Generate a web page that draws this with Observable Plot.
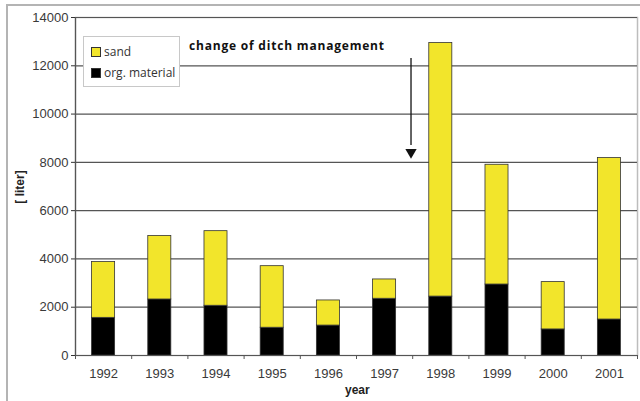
<!DOCTYPE html>
<html>
<head>
<meta charset="utf-8">
<script src="https://cdn.jsdelivr.net/npm/d3@7"></script>
<script src="https://cdn.jsdelivr.net/npm/@observablehq/plot@0.6"></script>
<style>
  html, body { margin: 0; padding: 0; width: 640px; height: 401px; overflow: hidden; background: #fff; }
  #wrap { position: relative; width: 640px; height: 401px; }
  #outer { position: absolute; left: 6px; top: 4px; width: 700px; height: 500px; border: 2px solid #b4b4b4; box-sizing: border-box; }
  #chart { position: absolute; left: 0; top: 0; }
  .lbl { position: absolute; font-family: "Liberation Sans", Arial, sans-serif; font-weight: bold; font-size: 12px; color: #222; }
  #legend { position: absolute; left: 83px; top: 36px; width: 97px; height: 51px; border: 1px solid #c8c8c8; background: #fff; box-sizing: border-box;
    font-family: "Open Sans", sans-serif; font-size: 12px; color: #333; }
  .li { position: absolute; left: 7px; display: flex; align-items: center; }
  .sw { width: 8px; height: 8px; border: 1px solid #333; margin-right: 3px; }
  #note { position: absolute; left: 189px; top: 37px; font-family: "Open Sans", sans-serif; font-weight: bold; font-size: 12px; letter-spacing: 0.8px; color: #111; white-space: nowrap; }
</style>
</head>
<body>
<div id="wrap">
  <div id="outer"></div>
  <div id="chart"></div>
  <div id="legend">
    <div class="li" style="top:6px"><span class="sw" style="background:#f2e52b"></span>sand</div>
    <div class="li" style="top:27px"><span class="sw" style="background:#000"></span>org. material</div>
  </div>
  <div id="note">change of ditch management</div>
  <div class="lbl" style="left:345px; top:383px;">year</div>
  <div class="lbl" style="left:20px; top:187px; transform: translate(-50%,-50%) rotate(-90deg);">[ liter]</div>
</div>
<script>
const years = [1992, 1993, 1994, 1995, 1996, 1997, 1998, 1999, 2000, 2001];
const orgMaterial = [1560, 2320, 2060, 1150, 1240, 2350, 2440, 2940, 1080, 1490];
const totals = [3870, 4950, 5150, 3700, 2280, 3150, 12940, 7900, 3040, 8180];
const sand = totals.map((t, i) => t - orgMaterial[i]);
const yTicks = [0, 2000, 4000, 6000, 8000, 10000, 12000, 14000];
const arrowX = [1997.47];
const arrowY = [12300, 8700];
const arrowHeadY = [8420];

const xDomain = [years[0] - 0.5, years[years.length - 1] + 0.5];
const boundaries = d3.range(xDomain[0], xDomain[1] + 0.01, 1);
const half = 0.205;

const rows = [];
years.forEach((y, i) => {
  rows.push({year: y, y1: 0, y2: orgMaterial[i], type: "org. material"});
  rows.push({year: y, y1: orgMaterial[i], y2: orgMaterial[i] + sand[i], type: "sand"});
});

const chart = Plot.plot({
  width: 640,
  height: 401,
  marginLeft: 75,
  marginRight: 3,
  marginTop: 17,
  marginBottom: 46,
  style: {fontFamily: "Liberation Sans, Arial, sans-serif", fontSize: "13px", color: "#333", background: "transparent"},
  x: {domain: xDomain, type: "linear"},
  y: {domain: [0, 14000]},
  color: {domain: ["sand", "org. material"], range: ["#f2e52b", "#000000"]},
  marks: [
    Plot.frame({stroke: "#bdbdbd", strokeWidth: 1.5}),
    Plot.gridY(yTicks.slice(1), {stroke: "#555", strokeOpacity: 1, strokeWidth: 1.2}),
    Plot.rectY(rows, {x1: d => d.year - half, x2: d => d.year + half, y1: "y1", y2: "y2", fill: "type", stroke: "#333", strokeWidth: 0.8}),
    Plot.ruleY([0], {stroke: "#555", strokeWidth: 1.2}),
    Plot.ruleX([xDomain[0]], {stroke: "#555", strokeWidth: 1.2}),
    Plot.axisY({ticks: yTicks, tickSize: 4, tickPadding: 3, label: null, tickFormat: d => String(d), fill: "#3a3a3a"}),
    Plot.axisX({ticks: boundaries, tickSize: 4, tickFormat: () => "", label: null, stroke: "#555"}),
    Plot.axisX({ticks: years, tickSize: 0, tickPadding: 13, tickFormat: d => String(d), label: null, fill: "#3a3a3a"}),
    Plot.ruleX(arrowX, {y1: arrowY[0], y2: arrowY[1], stroke: "#111", strokeWidth: 1.3}),
    Plot.dot(arrowX, {x: d => d, y: () => arrowHeadY[0], symbol: "triangle", rotate: 180, r: 4.2, fill: "#111", stroke: "none"})
  ]
});
document.getElementById("chart").appendChild(chart);
</script>
</body>
</html>
